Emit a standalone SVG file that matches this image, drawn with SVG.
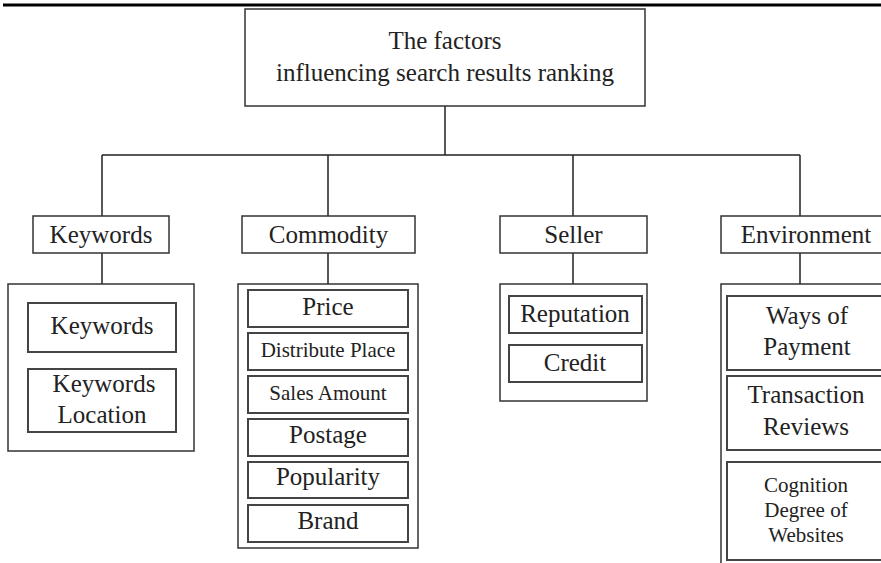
<svg xmlns="http://www.w3.org/2000/svg" width="881" height="563" viewBox="0 0 881 563">
<style>
  .box{fill:#fff;stroke:#333;stroke-width:1.5}
  .inner{fill:#fff;stroke:#444;stroke-width:2}
  .cn{fill:none;stroke:#222;stroke-width:1.5}
  text{font-family:"Liberation Serif","Times New Roman",serif;fill:#222;text-anchor:middle}
  .t25{font-size:25px}
  .t21{font-size:21px}
</style>
<rect width="881" height="563" fill="#fff"/>
<line x1="3" y1="5" x2="881" y2="5" stroke="#000" stroke-width="3"/>
<g id="connectors">
  <path class="cn" d="M445 106V155M102 155H800M102 155V216M328 155V216M573 155V216M800 155V216"/>
  <path class="cn" d="M102 253V284M328 253V284M573 253V284M800 253V284"/>
</g>
<g id="root">
  <rect class="box" x="245" y="9" width="400" height="97"/>
  <text class="t25" x="445" y="49">The factors</text>
  <text class="t25" x="445" y="81">influencing search results ranking</text>
</g>
<g id="keywords">
  <rect class="box" x="33" y="216" width="136" height="37"/>
  <text class="t25" x="101" y="243">Keywords</text>
</g>
<g id="commodity">
  <rect class="box" x="242" y="216" width="173" height="37"/>
  <text class="t25" x="328.5" y="243">Commodity</text>
</g>
<g id="seller">
  <rect class="box" x="500" y="216" width="147" height="37"/>
  <text class="t25" x="573.5" y="243">Seller</text>
</g>
<g id="environment">
  <rect class="box" x="721" y="216" width="170" height="37"/>
  <text class="t25" x="806" y="243">Environment</text>
</g>
<g id="keywords-items">
  <rect class="box" x="8" y="284" width="186" height="167"/>
  <rect class="inner" x="28" y="303" width="148" height="49"/>
  <text class="t25" x="102" y="334">Keywords</text>
  <rect class="inner" x="28" y="369" width="148" height="63"/>
  <text class="t25" x="104" y="392">Keywords</text>
  <text class="t25" x="102" y="423">Location</text>
</g>
<g id="commodity-items">
  <rect class="box" x="238" y="284" width="180" height="264"/>
  <rect class="inner" x="248" y="290" width="160" height="37"/>
  <text class="t25" x="328" y="315">Price</text>
  <rect class="inner" x="248" y="333" width="160" height="37"/>
  <text class="t21" x="328" y="357">Distribute Place</text>
  <rect class="inner" x="248" y="376" width="160" height="37"/>
  <text class="t21" x="328" y="400">Sales Amount</text>
  <rect class="inner" x="248" y="419" width="160" height="37"/>
  <text class="t25" x="328" y="443">Postage</text>
  <rect class="inner" x="248" y="462" width="160" height="36"/>
  <text class="t25" x="328" y="485">Popularity</text>
  <rect class="inner" x="248" y="505" width="160" height="37"/>
  <text class="t25" x="328" y="529">Brand</text>
</g>
<g id="seller-items">
  <rect class="box" x="500" y="284" width="147" height="117"/>
  <rect class="inner" x="509" y="296" width="133" height="37"/>
  <text class="t25" x="575" y="322">Reputation</text>
  <rect class="inner" x="509" y="345" width="133" height="37"/>
  <text class="t25" x="575" y="371">Credit</text>
</g>
<g id="environment-items">
  <rect class="box" x="721" y="284" width="175" height="300"/>
  <rect class="inner" x="727" y="296" width="160" height="74"/>
  <text class="t25" x="807" y="324">Ways of</text>
  <text class="t25" x="807" y="355">Payment</text>
  <rect class="inner" x="727" y="376" width="160" height="74"/>
  <text class="t25" x="806" y="403">Transaction</text>
  <text class="t25" x="806" y="435">Reviews</text>
  <rect class="inner" x="727" y="462" width="160" height="98"/>
  <text class="t21" x="806" y="492">Cognition</text>
  <text class="t21" x="806" y="517">Degree of</text>
  <text class="t21" x="806" y="542">Websites</text>
</g>
</svg>
